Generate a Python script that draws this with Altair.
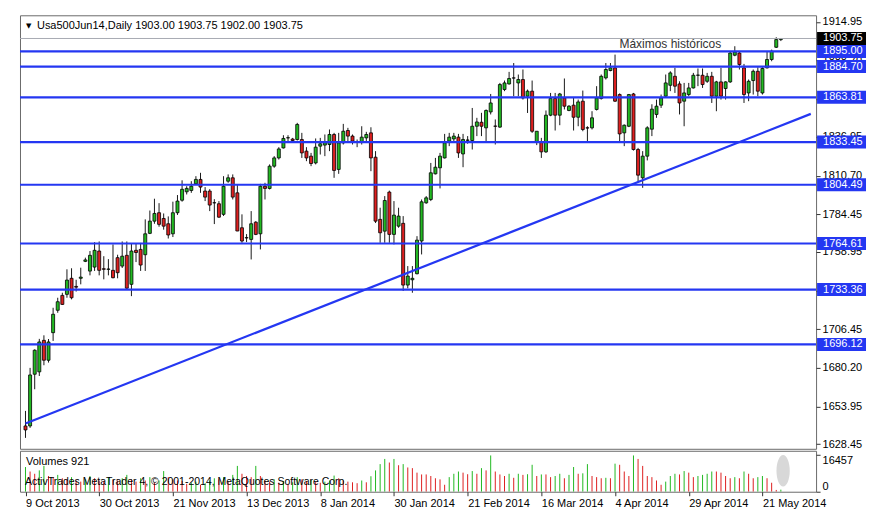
import altair as alt
import pandas as pd

# ---------------- data ----------------
opens = [1640.8, 1640.8, 1675.9, 1677.5, 1698.9, 1685.4, 1704.1, 1719.3, 1729.4, 1730.1,
         1741.0, 1735.5, 1741.0, 1752.5, 1745.9, 1748.6, 1759.5, 1747.5, 1747.1, 1746.4,
         1755.0, 1749.3, 1756.6, 1736.9, 1760.0, 1760.6, 1757.0, 1771.5, 1779.8, 1785.5,
         1781.6, 1778.0, 1771.2, 1785.5, 1794.0, 1799.7, 1800.6, 1805.1, 1808.1, 1800.2,
         1800.2, 1792.3, 1791.6, 1784.4, 1806.9, 1809.2, 1799.0, 1775.3, 1768.6, 1767.4,
         1779.1, 1771.2, 1803.5, 1802.0, 1817.1, 1822.7, 1829.5, 1836.3, 1835.5, 1835.2,
         1835.2, 1827.3, 1823.9, 1819.3, 1830.7, 1831.4, 1831.8, 1838.6, 1814.9, 1832.9,
         1841.3, 1837.5, 1833.5, 1833.6, 1836.3, 1839.7, 1823.2, 1781.0, 1773.0, 1799.5,
         1770.8, 1776.4, 1778.3, 1736.4, 1740.0, 1744.1, 1766.3, 1792.2, 1794.5, 1811.9,
         1816.0, 1822.7, 1834.1, 1835.6, 1836.8, 1825.4, 1834.7, 1834.5, 1844.2, 1846.9,
         1843.1, 1853.9, 1844.3, 1843.6, 1869.1, 1872.9, 1877.0, 1873.6, 1875.9, 1864.6,
         1868.0, 1833.6, 1833.6, 1826.8, 1851.7, 1863.0, 1851.7, 1863.4, 1854.9, 1858.5,
         1850.3, 1861.2, 1843.1, 1843.1, 1855.6, 1863.0, 1877.0, 1882.0, 1883.8, 1865.7,
         1839.7, 1844.2, 1866.1, 1828.4, 1809.2, 1823.9, 1842.2, 1852.2, 1858.5, 1864.6,
         1872.0, 1878.1, 1872.9, 1861.2, 1865.7, 1870.2, 1878.8, 1878.8, 1874.7, 1878.1,
         1864.6, 1874.3, 1869.8, 1874.3, 1892.4, 1893.9, 1883.8, 1866.8, 1875.2, 1881.5,
         1866.8, 1883.8, 1889.5, 1897.8, 1903.00]
highs = [1651.0, 1680.2, 1692.8, 1699.9, 1702.3, 1699.8, 1721.0, 1727.8, 1731.2, 1747.1,
         1747.8, 1740.0, 1748.2, 1755.0, 1759.5, 1765.5, 1766.0, 1756.0, 1754.0, 1764.0,
         1757.0, 1766.0, 1766.0, 1764.6, 1764.6, 1765.0, 1781.0, 1787.0, 1795.0, 1792.0,
         1785.0, 1783.0, 1793.0, 1797.5, 1807.5, 1803.5, 1806.9, 1810.3, 1812.6, 1802.9,
         1801.5, 1794.7, 1793.4, 1810.3, 1811.5, 1811.5, 1804.7, 1784.4, 1771.0, 1786.6,
         1779.8, 1805.1, 1805.8, 1818.3, 1823.9, 1830.0, 1838.1, 1838.1, 1836.3, 1846.5,
         1839.7, 1830.0, 1826.1, 1835.9, 1836.3, 1838.6, 1842.0, 1839.7, 1839.7, 1845.8,
         1843.1, 1838.6, 1835.2, 1844.2, 1840.4, 1843.5, 1827.3, 1788.9, 1796.8, 1800.5,
         1793.4, 1788.9, 1783.2, 1749.3, 1749.3, 1769.6, 1794.5, 1796.8, 1819.3, 1822.7,
         1826.1, 1839.0, 1839.7, 1839.7, 1839.0, 1839.0, 1837.5, 1856.6, 1849.9, 1853.3,
         1855.6, 1866.1, 1848.8, 1873.6, 1875.2, 1881.1, 1887.1, 1879.3, 1882.7, 1869.1,
         1875.2, 1840.8, 1836.3, 1854.9, 1866.8, 1866.8, 1866.8, 1876.6, 1858.5, 1863.4,
         1862.3, 1868.4, 1844.2, 1854.4, 1871.4, 1879.3, 1887.1, 1887.1, 1892.8, 1866.5,
         1845.4, 1866.1, 1866.8, 1829.5, 1827.3, 1844.2, 1859.1, 1862.3, 1865.7, 1879.3,
         1881.5, 1883.8, 1874.7, 1873.6, 1873.6, 1880.4, 1883.4, 1883.4, 1880.4, 1881.1,
         1875.0, 1883.8, 1874.7, 1895.1, 1898.5, 1895.1, 1886.5, 1875.9, 1882.7, 1884.2,
         1884.2, 1895.1, 1896.2, 1904.6, 1903.75]
lows = [1632.7, 1639.5, 1665.7, 1674.7, 1682.0, 1683.8, 1698.5, 1717.6, 1722.9, 1727.8,
        1726.7, 1732.0, 1736.9, 1752.0, 1743.0, 1746.0, 1743.0, 1740.3, 1743.0, 1741.0,
        1741.0, 1748.0, 1733.5, 1728.9, 1752.0, 1746.0, 1746.0, 1771.0, 1778.0, 1776.0,
        1774.0, 1768.0, 1769.0, 1784.0, 1793.0, 1797.9, 1799.0, 1804.7, 1799.0, 1793.4,
        1786.6, 1777.8, 1782.0, 1783.3, 1805.8, 1794.5, 1773.0, 1765.1, 1765.6, 1753.8,
        1770.3, 1760.6, 1794.5, 1801.3, 1816.0, 1821.6, 1829.1, 1833.6, 1832.9, 1834.5,
        1822.7, 1820.5, 1817.1, 1818.3, 1825.0, 1823.9, 1827.3, 1809.2, 1811.9, 1831.8,
        1834.1, 1831.8, 1830.0, 1831.8, 1834.1, 1813.7, 1778.5, 1765.1, 1765.1, 1765.1,
        1764.0, 1775.3, 1732.4, 1734.2, 1731.2, 1743.7, 1757.2, 1791.6, 1793.4, 1811.5,
        1802.0, 1822.3, 1830.7, 1834.1, 1822.7, 1816.4, 1832.3, 1828.4, 1837.5, 1837.5,
        1832.9, 1852.2, 1831.8, 1843.1, 1868.0, 1872.5, 1864.6, 1864.6, 1862.3, 1853.2,
        1839.7, 1831.4, 1822.7, 1826.1, 1851.0, 1841.3, 1844.9, 1855.6, 1854.4, 1841.3,
        1844.2, 1840.8, 1834.1, 1842.0, 1854.9, 1862.3, 1875.9, 1881.5, 1860.7, 1834.1,
        1830.7, 1843.6, 1827.7, 1806.9, 1802.4, 1821.0, 1837.5, 1849.9, 1856.6, 1863.4,
        1868.0, 1866.8, 1852.2, 1844.2, 1864.6, 1869.8, 1871.4, 1870.2, 1873.6, 1860.0,
        1854.4, 1862.3, 1862.3, 1873.6, 1891.7, 1882.7, 1860.0, 1861.2, 1865.7, 1864.6,
        1865.7, 1883.4, 1888.3, 1897.3, 1902.00]
closes = [1638.1, 1675.4, 1692.2, 1697.8, 1685.4, 1697.8, 1716.6, 1725.1, 1723.3, 1739.8,
          1727.8, 1735.0, 1741.8, 1753.5, 1756.6, 1760.0, 1746.4, 1747.1, 1747.3, 1741.4,
          1744.8, 1756.0, 1734.3, 1759.5, 1758.5, 1750.0, 1771.2, 1779.8, 1785.0, 1777.6,
          1776.4, 1770.4, 1785.5, 1793.4, 1801.4, 1802.0, 1803.5, 1808.1, 1802.9, 1796.1,
          1790.7, 1792.2, 1782.5, 1803.5, 1809.2, 1796.1, 1773.1, 1766.3, 1768.4, 1778.0,
          1770.8, 1803.5, 1802.0, 1817.1, 1822.7, 1828.8, 1835.9, 1836.4, 1834.5, 1845.4,
          1826.1, 1822.7, 1818.9, 1830.0, 1832.3, 1833.0, 1838.6, 1814.2, 1832.9, 1840.8,
          1837.5, 1834.1, 1833.4, 1836.8, 1838.6, 1822.7, 1779.8, 1771.9, 1793.8, 1770.8,
          1783.9, 1783.2, 1736.4, 1742.5, 1741.0, 1766.9, 1792.9, 1795.6, 1812.6, 1816.4,
          1823.9, 1832.9, 1836.8, 1837.5, 1826.1, 1835.2, 1834.8, 1844.2, 1847.1, 1844.2,
          1854.9, 1860.0, 1844.2, 1872.5, 1873.6, 1876.6, 1876.9, 1875.9, 1863.4, 1868.0,
          1840.8, 1840.8, 1826.8, 1851.7, 1863.0, 1851.7, 1866.1, 1857.8, 1857.8, 1850.3,
          1860.7, 1842.0, 1843.0, 1849.9, 1863.4, 1878.1, 1882.7, 1883.8, 1861.2, 1839.0,
          1844.9, 1865.7, 1828.4, 1811.0, 1823.9, 1843.1, 1855.8, 1857.8, 1863.4, 1873.6,
          1880.4, 1871.4, 1860.0, 1866.8, 1870.2, 1878.8, 1878.9, 1872.5, 1878.1, 1864.6,
          1874.3, 1864.6, 1874.3, 1893.9, 1894.6, 1886.1, 1865.7, 1874.7, 1881.5, 1868.0,
          1883.4, 1889.5, 1895.1, 1903.0, 1903.75]
volumes = [11000, 9000, 8000, 9500, 11500, 7000, 6500, 7500, 6000, 5500,
           6500, 5000, 4500, 5500, 7000, 6000, 5000, 4800, 6500, 5200,
           5000, 6000, 7500, 5500, 4500, 6000, 5000, 6500, 4000, 5000,
           9200, 6500, 5500, 5000, 4800, 3500, 4000, 4500, 3000, 3800,
           5000, 6000, 5500, 6500, 4500, 7500, 11500, 8000, 7000, 6500,
           11500, 7000, 5000, 4500, 5500, 4000, 4800, 3500, 4200, 6500,
           5500, 4800, 5200, 4300, 4000, 4500, 5000, 7200, 6000, 5000,
           4500, 4200, 3800, 5000, 4200, 6900, 9500, 12300, 14600, 13000,
           14600, 11800, 12300, 10800, 10500, 8500, 7700, 7700, 7000, 6000,
           5500, 3100, 6500, 8000, 9000, 8500, 7800, 9200, 8000, 10500,
           9500, 16150, 9000, 7700, 7000, 8000, 6200, 8000, 7500, 7800,
           12000, 7000, 7700, 7700, 6500, 7000, 8000, 6000, 7500, 11000,
           8000, 8200, 12300, 7000, 6500, 6000, 6200, 6000, 12500, 12000,
           9000, 7000, 16150, 14600, 11500, 7000, 6500, 5000, 3100, 4500,
           7000, 8000, 7700, 9200, 8500, 6500, 7000, 7500, 8000, 9000,
           9000, 8500, 7000, 6000, 6500, 6000, 9000, 8000, 6000, 6500,
           7000, 6000, 4000, 800, 921]

levels = [1895.00, 1884.70, 1863.81, 1833.45, 1804.49, 1764.61, 1733.36, 1696.12]
level_labels = ["1895.00", "1884.70", "1863.81", "1833.45", "1804.49", "1764.61", "1733.36", "1696.12"]
bid_price = 1903.75
bid_label = "1903.75"
price_ticks = [1914.95, 1888.70, 1862.45, 1836.95, 1810.70, 1784.45, 1758.95, 1732.70,
               1706.45, 1680.20, 1653.95, 1628.45]
trend_idx = [0, 170.5]
trend_price = [1642.4, 1852.6]
date_pos = [0, 16, 32, 48, 64, 80, 96, 112, 128, 144, 160]
date_labels = ["9 Oct 2013", "30 Oct 2013", "21 Nov 2013", "13 Dec 2013", "8 Jan 2014",
               "30 Jan 2014", "21 Feb 2014", "16 Mar 2014", "4 Apr 2014", "29 Apr 2014",
               "21 May 2014"]
vol_ticks = [0, 16457]
note_text = ["Máximos históricos"]
note_idx = [140.0]
note_price = [1899.8]
header = "Usa500Jun14,Daily  1903.00 1903.75 1902.00 1903.75"
vol_title = "Volumes 921"
copyright_text = "ActivTrades MetaTrader 4, © 2001-2014, MetaQuotes Software Corp."

# ---------------- frames ----------------
n = len(opens)
df = pd.DataFrame({"i": list(range(n)), "o": opens, "h": highs, "l": lows, "c": closes,
                   "v": volumes})
df["dir"] = ["up" if c >= o else "down" for o, c in zip(opens, closes)]
vdir = ["up"]
for k in range(1, n):
    vdir.append("up" if volumes[k] > volumes[k - 1] else "down")
df["vdir"] = vdir

lv = pd.DataFrame({"p": levels, "t": level_labels})
bid = pd.DataFrame({"p": [bid_price], "t": [bid_label]})
trend = pd.DataFrame({"i": trend_idx, "p": trend_price})
note = pd.DataFrame({"i": note_idx, "p": note_price, "t": note_text})
one = pd.DataFrame({"a": [0]})

FONT = "Liberation Sans"
BLUE = "#2437f2"
W = 797
H_MAIN = 434
H_VOL = 41
XDOM = [-0.11, 170.56]
YDOM = [1625.3, 1919.5]

xs = alt.Scale(domain=XDOM, nice=False, zero=False)
ys = alt.Scale(domain=YDOM, nice=False, zero=False)

x_main = alt.X("i:Q", scale=xs, axis=None)

PAX = alt.Axis(orient="right", values=price_ticks, format=".2f", grid=False,
               domain=False, tickSize=4, tickColor="#333", labelPadding=2,
               labelFontSize=11, labelColor="#000", labelFont=FONT, title=None,
               labelOverlap=False, labelFlush=False, labelBound=False)


def Yp(field):
    return alt.Y(field, scale=ys, axis=PAX, title=None)


wicks = alt.Chart(df).mark_rule(color="#1a1a1a", strokeWidth=1, clip=True).encode(
    x=x_main, y=Yp("l:Q"), y2="h:Q",
)
bodies = alt.Chart(df).mark_bar(size=3, stroke="#000", strokeWidth=0.8, clip=True).encode(
    x=x_main, y=Yp("o:Q"), y2="c:Q",
    color=alt.Color("dir:N", scale=alt.Scale(domain=["up", "down"], range=["#22b922", "#de2020"]),
                    legend=None),
)
hlines = alt.Chart(lv).mark_rule(color=BLUE, strokeWidth=2.2, clip=True).encode(y=Yp("p:Q"))
bidline = alt.Chart(bid).mark_rule(color="#a8acb4", strokeWidth=1, clip=True).encode(y=Yp("p:Q"))
trendline = alt.Chart(trend).mark_line(color=BLUE, strokeWidth=2.2, clip=True).encode(
    x=x_main, y=Yp("p:Q")
)
note_mark = alt.Chart(note).mark_text(font=FONT, fontSize=12, color="#333",
                                      baseline="middle").encode(
    x=x_main, y=Yp("p:Q"), text="t:N"
)
header_tri = alt.Chart(one).mark_text(text="▼", font="DejaVu Sans", fontSize=7, color="#000",
                                      align="left", baseline="middle").encode(
    x=alt.value(6), y=alt.value(11)
)
header_txt = alt.Chart(one).mark_text(text=header, font=FONT, fontSize=11, color="#000",
                                      align="left", baseline="middle").encode(
    x=alt.value(17), y=alt.value(11)
)
boxes = alt.Chart(lv).mark_rule(color=BLUE, strokeWidth=13, strokeCap="butt").encode(
    y=Yp("p:Q"), x=alt.value(798), x2=alt.value(847)
)
box_txt = alt.Chart(lv).mark_text(font=FONT, fontSize=11, color="#fff", align="left",
                                  baseline="middle").encode(
    y=Yp("p:Q"), x=alt.value(804), text="t:N"
)
bid_box = alt.Chart(bid).mark_rule(color="#000", strokeWidth=13, strokeCap="butt").encode(
    y=Yp("p:Q"), x=alt.value(798), x2=alt.value(847)
)
bid_txt = alt.Chart(bid).mark_text(font=FONT, fontSize=11, color="#fff", align="left",
                                   baseline="middle").encode(
    y=Yp("p:Q"), x=alt.value(804), text="t:N"
)

main = alt.layer(wicks, bodies, bidline, hlines, trendline, note_mark, header_tri,
                 header_txt, boxes, box_txt, bid_box, bid_txt).properties(width=W, height=H_MAIN)

# ---------------- volume panel ----------------
label_expr = "[" + ",".join("'" + d + "'" for d in date_labels) + "][round(datum.value/16)]"
vs = alt.Scale(domain=[0, 18236], nice=False, zero=True)
vol_bars = alt.Chart(df).mark_rule(strokeWidth=1, clip=True).encode(
    x=alt.X("i:Q", scale=xs,
            axis=alt.Axis(values=date_pos, labelExpr=label_expr, labelAlign="left",
                          grid=False, domain=False, tickSize=4, tickColor="#333",
                          labelPadding=2, labelFontSize=11, labelFont=FONT, labelColor="#000",
                          title=None, labelFlush=False, labelOverlap=False)),
    y=alt.Y("v:Q", scale=vs,
            axis=alt.Axis(orient="right", values=vol_ticks, format="d", grid=False,
                          domain=False, tickSize=4, tickColor="#333", labelPadding=2,
                          labelFontSize=11, labelFont=FONT, labelColor="#000", title=None,
                          labelOverlap=False,
                          labelBaseline={"condition": {"test": "datum.value == 0",
                                                       "value": "bottom"},
                                         "value": "top"})),
    y2=alt.datum(0),
    color=alt.Color("vdir:N", scale=alt.Scale(domain=["up", "down"], range=["#008000", "#ff0000"]),
                    legend=None),
)
blob = alt.Chart(one).mark_point(
    shape="M -0.42 0 A 0.42 1 0 1 0 0.42 0 A 0.42 1 0 1 0 -0.42 0 Z",
    size=1000, filled=True, color="#d8d8d8", opacity=1).encode(
    x=alt.value(764), y=alt.value(20)
)
vol_t1 = alt.Chart(one).mark_text(text=vol_title, font=FONT, fontSize=11, color="#000",
                                  align="left", baseline="middle").encode(
    x=alt.value(6), y=alt.value(11)
)
vol_t2 = alt.Chart(one).mark_text(text=copyright_text, font=FONT, fontSize=10.5, color="#000",
                                  align="left", baseline="middle").encode(
    x=alt.value(5), y=alt.value(31)
)
vol = alt.layer(vol_bars, blob, vol_t1, vol_t2).properties(width=W, height=H_VOL)

chart = alt.vconcat(main, vol, spacing=2, bounds="flush").properties(
    padding={"left": 11, "top": 6, "right": 2, "bottom": 2},
    background="#ffffff",
).configure_view(stroke="#6a6a6a", strokeWidth=1).configure_axis(
    labelOverlap=False
).resolve_scale(x="shared")

chart.save("out.html", embed_options={"renderer": "svg", "actions": False})
